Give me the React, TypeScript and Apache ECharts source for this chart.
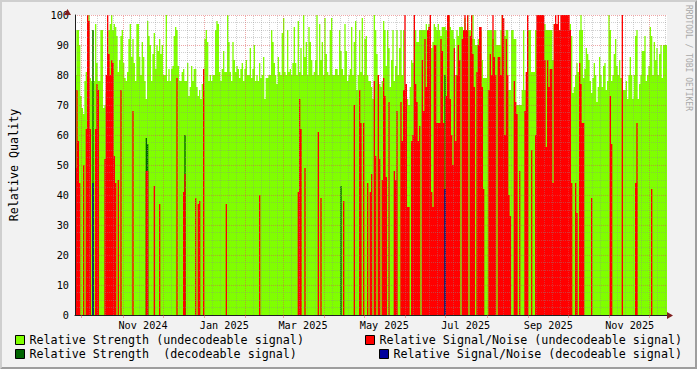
import React, { useEffect, useRef } from 'react';
import * as echarts from 'echarts';

// ---- time frame (one sample per day) ----
const START_DATE = Date.UTC(2024, 8, 26); // 26 Sep 2024
const DAYS = 444;

// ---- x axis labels ----
const xTickLabels = ['Nov 2024', 'Jan 2025', 'Mar 2025', 'May 2025', 'Jul 2025', 'Sep 2025', 'Nov 2025'];
const xTickMonths = [[2024, 11], [2025, 1], [2025, 3], [2025, 5], [2025, 7], [2025, 9], [2025, 11]];
const gridMonths = [
  [2024, 10], [2024, 11], [2024, 12], [2025, 1], [2025, 2], [2025, 3], [2025, 4], [2025, 5],
  [2025, 6], [2025, 7], [2025, 8], [2025, 9], [2025, 10], [2025, 11], [2025, 12],
];
const minorGridDaysOfMonth = [7, 13, 19, 25];

// ---- Relative Strength (undecodeable signal), one value per day ----
const strengthUndecodeable = [
  80, 95, 95, 90, 73, 69, 67, 78, 81, 97, 100, 79, 78, 95, 78, 97, 84, 78, 78, 95,
  95, 69, 70, 74, 77, 95, 97, 100, 95, 97, 96, 93, 81, 85, 93, 95, 84, 79, 78, 81,
  92, 97, 86, 92, 84, 78, 97, 97, 86, 80, 91, 86, 78, 72, 98, 93, 90, 78, 87, 94,
  82, 90, 88, 92, 87, 90, 80, 80, 100, 78, 82, 78, 82, 83, 93, 96, 95, 83, 78, 78,
  81, 82, 78, 78, 84, 73, 76, 83, 78, 82, 82, 76, 73, 75, 72, 77, 75, 92, 95, 91,
  78, 80, 78, 80, 80, 95, 98, 97, 81, 78, 82, 88, 81, 81, 100, 91, 81, 78, 91, 85,
  81, 83, 82, 79, 82, 84, 78, 82,
  85, 80, 80, 89, 79, 82, 90, 78, 80, 78, 84, 79, 80, 86, 72, 79,
  79, 80, 80, 95, 91, 84, 80, 77, 86, 81, 80, 94, 99, 81, 80, 95, 81, 82, 80, 84,
  96, 84, 80, 98, 81, 89, 80, 100, 86, 91, 80, 96, 91, 85, 80, 81, 85, 100, 80, 97,
  85, 91, 80, 99, 87, 81, 80, 95, 99, 80, 80, 82, 82, 80, 95, 88, 82, 80, 97, 88,
  78, 80, 82, 96, 80, 91, 98, 75, 80, 95, 81, 99, 80, 92, 93, 80, 78,
  78, 76, 72, 100, 95, 87, 80, 77, 76, 78, 98, 95, 83, 95, 89, 76, 85, 95, 78, 83,
  95, 80, 89, 95, 80, 95, 75, 73, 72, 70, 76, 85, 84, 95, 95, 91, 91, 95, 95, 95,
  95, 95, 97, 95, 97, 72, 89, 91, 97, 96, 95, 97, 95, 93, 96, 96, 96, 95, 91, 100,
  96, 95, 95, 92, 80, 95, 93, 96, 96, 96, 95, 99, 91, 100,
  95, 95, 92, 100, 92, 90, 90, 92, 95, 95, 85, 79, 79, 79, 95, 95, 95, 95, 92, 95,
  95, 90, 90, 90, 95, 100, 95, 93, 95, 95, 75, 75, 95, 95, 92, 92, 70, 70, 70, 70,
  75, 95, 75, 75, 95, 95, 95, 81, 81, 81, 95, 95, 100, 100, 100, 97, 97, 97, 95, 95,
  95, 95, 95, 85, 97, 97, 69, 69, 69, 95, 100, 100, 100, 100,
  95, 95, 97, 93, 74, 76, 80, 84, 81, 95, 100, 95, 79, 82, 89, 87, 85, 78, 74, 79,
  84, 80, 71, 76, 86, 80, 76, 83, 84, 75, 78, 100, 95, 78, 80, 87, 92, 83, 80, 85,
  79, 79, 75, 75, 78, 72, 80, 86, 80, 72, 80, 93, 95, 72, 77, 80, 88, 88, 93, 78,
  80, 83, 96, 93, 80, 91, 85, 89, 80, 87, 90, 79, 90, 90, 90,
];

// ---- Relative Strength (decodeable signal): [day, value] ----
const strengthDecodeable = [[13, 95], [53, 59], [54, 57], [82, 60], [199, 43], [277, 80]];

// ---- Relative Signal/Noise (undecodeable signal) ----
// sparse part, days 0..220: [day, value]
const snrUndecodeableEarly = [
  [0, 49], [1, 75], [2, 58], [3, 44], [6, 50], [8, 62], [9, 100], [10, 98], [11, 62],
  [15, 62], [16, 77], [17, 75], [22, 52], [23, 80], [24, 100], [25, 87], [26, 80], [27, 85],
  [28, 84], [29, 53], [30, 44], [32, 45], [34, 75], [43, 68], [53, 48], [54, 48], [59, 43],
  [63, 37], [76, 79], [81, 41], [82, 47], [90, 39], [92, 37], [93, 38], [96, 82], [113, 37],
  [138, 40], [167, 41], [168, 72], [169, 62], [172, 49], [182, 61], [184, 39], [201, 38],
  [209, 70], [213, 75], [214, 64], [216, 64], [219, 44],
];
// dense part, one value per day from day 221
const snrUndecodeableLate = [
  41, 47, 0, 78, 53, 0, 80, 52, 0, 45,
  79, 73, 46, 0, 71, 0, 0, 0, 48, 45,
  68, 0, 0, 71, 58, 75, 100, 77, 36, 36,
  0, 58, 60, 100, 77, 71, 58, 63, 0, 85,
  68, 92, 76, 95, 96, 100, 41, 36, 90, 90,
  64, 64, 64, 92, 88, 64, 0, 73, 100, 100,
  72, 60, 50, 89, 58, 80, 90, 85, 0, 92,
  95, 100, 95, 100, 0, 93, 100, 87, 76, 0,
  81, 90, 96, 96, 76, 42, 0, 0, 0, 75,
  87, 80, 100, 86, 80, 0, 86, 86, 80, 100,
  99, 60, 92, 80, 40, 33, 0, 0, 78, 71,
  67, 0, 48, 0, 0, 0, 68, 81, 100, 0,
  0, 55, 0, 0, 60, 100, 100, 100, 100, 100,
  100, 85, 56, 85, 76, 82, 82, 44, 97, 100,
  97, 100, 95, 100, 100, 100, 100, 100, 100, 100,
  95, 44, 0, 0, 44, 34, 0, 84, 77, 64,
  64, 0, 0, 0, 0, 0, 39, 0, 0, 0,
  0, 0, 0, 0, 0, 0, 0, 0, 0, 0,
  73, 57, 0, 0, 0, 0, 0, 0, 0, 100,
  0, 0, 0, 0, 0, 0, 0, 0, 0, 44,
  64, 0, 0, 0, 0, 0, 0, 0, 0, 0,
  0, 42, 0, 0, 0, 0, 0, 0, 0, 0,
  0, 0, 0,
];
const SNR_LATE_FROM = 221;

// ---- Relative Signal/Noise (decodeable signal): [day, value] ----
const snrDecodeable = [[13, 44], [277, 42]];

// ---- names ----
const N_STR_UND = 'Relative Strength (undecodeable signal)';
const N_STR_DEC = 'Relative Strength  (decodeable signal)';
const N_SNR_UND = 'Relative Signal/Noise (undecodeable signal)';
const N_SNR_DEC = 'Relative Signal/Noise (decodeable signal)';

// ---- styles ----
const FONT = '"DejaVu Sans Mono", monospace';
const C_GREEN = '#80FF00';
const C_DKGREEN = '#006400';
const C_RED = '#FF0000';
const C_BLUE = '#00009C';
const C_GRID = 'rgba(140,140,140,0.4)';
const C_MGRID = 'rgba(222,79,79,0.5)';
const C_AXIS = '#1F1F1F';
const C_ARROW = '#801F1F';

const dayOf = (y: number, m: number, d: number) =>
  Math.round((Date.UTC(y, m - 1, d) - START_DATE) / 86400000);

function fromPairs(pairs: number[][]): number[] {
  const out = new Array(DAYS).fill(0);
  pairs.forEach(([d, v]) => { if (d >= 0 && d < DAYS) out[d] = v; });
  return out;
}

function stepData(vals: number[]) {
  const out = vals.map((v, i) => [i, v]);
  out.push([vals.length, vals[vals.length - 1]]);
  return out;
}

export default function App() {
  const ref = useRef<HTMLDivElement>(null);

  useEffect(() => {
    if (!ref.current) return;
    const chart = echarts.init(ref.current, undefined, { renderer: 'svg' });

    const snrUnd = fromPairs(snrUndecodeableEarly);
    snrUndecodeableLate.forEach((v, i) => {
      const d = SNR_LATE_FROM + i;
      if (d < DAYS) snrUnd[d] = v;
    });
    const strDec = fromPairs(strengthDecodeable);
    const snrDec = fromPairs(snrDecodeable);

    const labelDays = xTickMonths.map(([y, m]) => dayOf(y, m, 1) + 15);
    const monthDays = gridMonths.map(([y, m]) => dayOf(y, m, 1)).filter((d) => d > 0 && d < DAYS);
    const minorDays: number[] = [];
    gridMonths.forEach(([y, m]) => {
      minorGridDaysOfMonth.forEach((dm) => {
        const d = dayOf(y, m, dm);
        if (d > 0 && d < DAYS) minorDays.push(d);
      });
    });

    const area = (name: string, color: string, vals: number[], extra: any = {}) => ({
      name,
      type: 'line',
      step: 'end',
      data: stepData(vals),
      color,
      itemStyle: { color },
      symbol: 'none',
      showSymbol: false,
      silent: true,
      lineStyle: { width: 0, color },
      areaStyle: { color, opacity: 1, origin: 'start' },
      ...extra,
    });

    const legendBase = {
      orient: 'horizontal',
      padding: 0,
      itemWidth: 9,
      itemHeight: 9,
      icon: 'rect',
      selectedMode: false,
      textStyle: { fontFamily: FONT, fontSize: 11.7, color: '#000' },
      itemStyle: { borderColor: '#000', borderWidth: 1 },
    };

    const W = 697;
    const H = 369;

    const option: any = {
      animation: false,
      backgroundColor: '#F2F2F2',
      textStyle: { fontFamily: FONT },
      grid: {
        left: 67, top: 15, width: 600, height: 300,
        show: true, backgroundColor: '#FFFFFF', borderWidth: 0, containLabel: false,
      },
      xAxis: {
        type: 'value', min: 0, max: DAYS, z: 10,
        axisLine: { show: true, lineStyle: { color: C_AXIS, width: 1 } },
        axisTick: { show: true, customValues: monthDays, length: 3, lineStyle: { color: C_MGRID } },
        axisLabel: {
          customValues: labelDays,
          margin: 5,
          fontSize: 10.2,
          fontFamily: FONT,
          color: '#000',
          formatter: (v: number) => {
            const i = labelDays.indexOf(Math.round(v));
            return i >= 0 ? xTickLabels[i] : '';
          },
        },
        splitLine: { show: false },
      },
      yAxis: {
        type: 'value', min: 0, max: 100, interval: 10, z: 10,
        name: 'Relative Quality', nameLocation: 'middle', nameGap: 55, nameRotate: 90,
        nameTextStyle: { fontFamily: FONT, fontSize: 11.7, color: '#000' },
        axisLine: { show: true, lineStyle: { color: C_AXIS, width: 1 } },
        axisTick: { show: false },
        axisLabel: { margin: 6, fontSize: 10.2, fontFamily: FONT, color: '#000' },
        splitLine: { show: true, lineStyle: { color: C_MGRID, type: [1, 1], width: 1 } },
        minorTick: { show: false, splitNumber: 4 },
        minorSplitLine: { show: true, lineStyle: { color: C_GRID, type: [1, 1], width: 1 } },
      },
      legend: [
        { ...legendBase, data: [N_STR_UND], left: 15, top: 334 },
        { ...legendBase, data: [N_STR_DEC], left: 15, top: 348 },
        { ...legendBase, data: [N_SNR_UND], left: 365, top: 334 },
        { ...legendBase, data: [N_SNR_DEC], left: 379, top: 348 },
      ],
      series: [
        area(N_STR_UND, C_GREEN, strengthUndecodeable),
        area(N_STR_DEC, C_DKGREEN, strDec),
        area(N_SNR_UND, C_RED, snrUnd),
        area(N_SNR_DEC, C_BLUE, snrDec, {
          markLine: {
            silent: true,
            symbol: ['none', 'none'],
            label: { show: false },
            z: 5,
            data: [
              ...minorDays.map((d) => ({ xAxis: d, lineStyle: { color: C_GRID, type: [1, 1], width: 1 } })),
              ...monthDays.map((d) => ({ xAxis: d, lineStyle: { color: C_MGRID, type: [1, 1], width: 1 } })),
            ],
          },
        }),
      ],
      graphic: [
        { type: 'polygon', silent: true, shape: { points: [[0, 0], [W, 0], [W - 2, 2], [2, 2], [2, H - 2], [0, H]] }, style: { fill: '#CFCFCF' } },
        { type: 'polygon', silent: true, shape: { points: [[W, 0], [W, H], [0, H], [2, H - 2], [W - 2, H - 2], [W - 2, 2]] }, style: { fill: '#9E9E9E' } },
        { type: 'polygon', silent: true, z: 20, shape: { points: [[667, 312], [673, 315.5], [667, 319]] }, style: { fill: C_ARROW } },
        { type: 'polygon', silent: true, z: 20, shape: { points: [[64, 15], [67.5, 9], [71, 15]] }, style: { fill: C_ARROW } },
        {
          type: 'text', silent: true, x: 688.5, y: 5, rotation: -Math.PI / 2,
          style: { text: 'RRDTOOL / TOBI OETIKER', font: '8px ' + FONT, fill: '#A8A8A8', align: 'left', verticalAlign: 'middle' },
        },
      ],
    };

    chart.setOption(option);
    return () => chart.dispose();
  }, []);

  return (
    <div style={{ position: 'fixed', left: 0, top: 0, width: 697, height: 369 }}>
      <div ref={ref} style={{ width: 697, height: 369 }} />
    </div>
  );
}
